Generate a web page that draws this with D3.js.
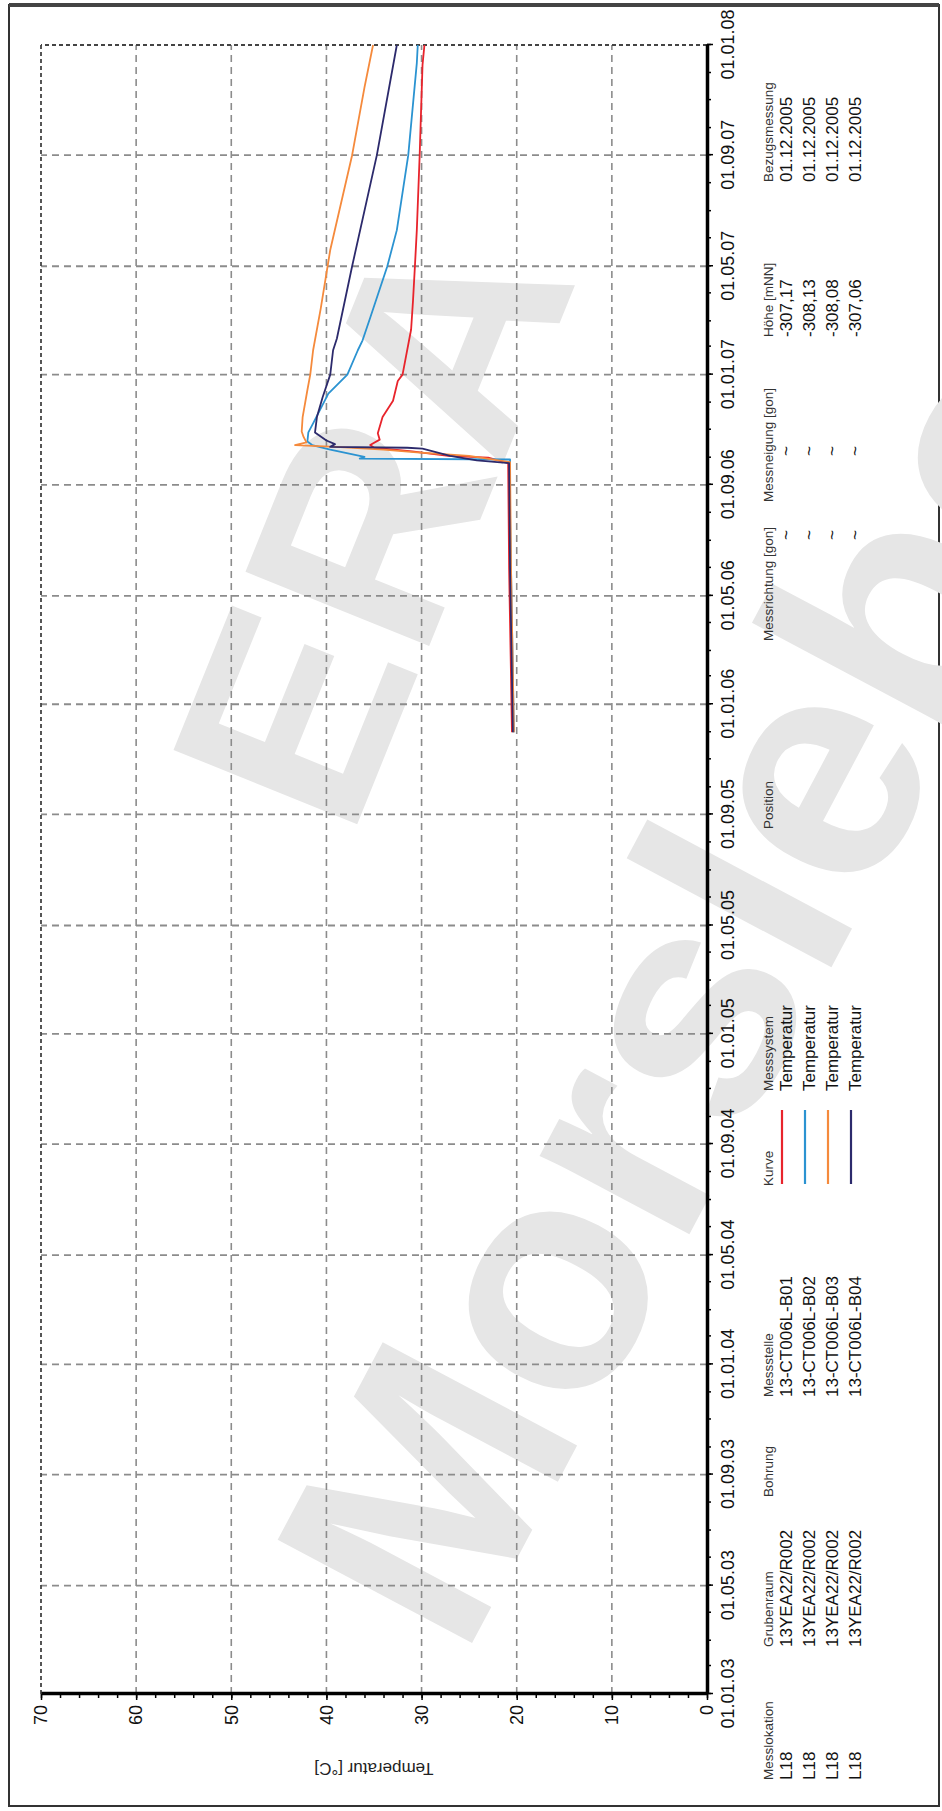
<!DOCTYPE html>
<html><head><meta charset="utf-8">
<script src="https://cdn.jsdelivr.net/npm/d3@7"></script>
<style>
body{margin:0;background:#fff}
svg{display:block}
text{font-family:"Liberation Sans",Arial,sans-serif}
</style>
</head><body>
<svg id="c" width="942" height="1811"></svg>
<script>
// ---------- data ----------
const dateTicks = ["2003-01-01","2003-05-01","2003-09-01","2004-01-01","2004-05-01","2004-09-01","2005-01-01","2005-05-01","2005-09-01","2006-01-01","2006-05-01","2006-09-01","2007-01-01","2007-05-01","2007-09-01","2008-01-01"];
const tempTicks = [0,10,20,30,40,50,60,70];
const seriesNames = ["13-CT006L-B01","13-CT006L-B02","13-CT006L-B03","13-CT006L-B04"];
const seriesColors = ["#e8242c","#2b93d1","#f58a3c","#2c2a6c"];

const b01 = [["2005-12-01",20.5],["2006-02-01",20.6],["2006-04-01",20.7],["2006-06-01",20.8],["2006-09-25",20.9],["2006-10-01",23.0],["2006-10-03",27.2],["2006-10-08",31.0],["2006-10-12",35.0],["2006-10-15",35.4],["2006-10-21",34.4],["2006-10-28",34.6],["2006-11-15",34.1],["2006-12-03",33.0],["2006-12-25",32.5],["2007-01-01",32.0],["2007-02-20",31.1],["2007-03-24",30.9],["2007-05-01",30.7],["2007-06-10",30.5],["2007-09-01",30.2],["2007-12-10",29.9],["2008-01-01",29.7]];
const b02 = [["2005-12-01",20.3],["2006-02-01",20.4],["2006-04-01",20.5],["2006-06-01",20.6],["2006-08-01",20.7],["2006-09-29",20.7],["2006-09-30",36.5],["2006-10-02",36.0],["2006-10-10",39.6],["2006-10-15",41.5],["2006-10-19",42.0],["2006-10-29",41.9],["2006-11-08",41.4],["2006-12-11",39.8],["2007-01-01",37.8],["2007-01-28",36.7],["2007-02-08",36.2],["2007-03-05",35.4],["2007-05-01",33.6],["2007-06-10",32.6],["2007-09-01",31.4],["2007-12-12",30.5],["2008-01-01",30.4]];
const b03 = [["2005-12-01",20.3],["2006-02-01",20.4],["2006-04-01",20.5],["2006-06-01",20.6],["2006-09-26",20.7],["2006-10-03",25.0],["2006-10-07",30.5],["2006-10-10",34.0],["2006-10-13",39.0],["2006-10-15",43.3],["2006-10-18",42.1],["2006-10-24",42.4],["2006-10-30",42.6],["2006-11-15",42.5],["2006-12-15",42.0],["2007-01-01",41.7],["2007-01-28",41.4],["2007-03-15",40.6],["2007-05-19",39.6],["2007-09-01",37.3],["2007-11-15",36.0],["2008-01-01",35.1]];
const b04 = [["2005-12-01",20.4],["2006-02-01",20.5],["2006-04-01",20.6],["2006-06-01",20.7],["2006-09-25",20.8],["2006-09-28",24.2],["2006-10-03",27.0],["2006-10-11",29.9],["2006-10-12",31.5],["2006-10-13",39.6],["2006-10-16",39.1],["2006-10-20",40.0],["2006-10-29",41.2],["2006-11-15",41.0],["2006-12-07",40.4],["2007-01-01",39.6],["2007-01-28",39.3],["2007-02-10",38.9],["2007-05-01",37.3],["2007-09-01",34.7],["2008-01-01",32.6]];
const seriesData = [b01,b02,b03,b04];

const legendHeaders = ["Messlokation","Grubenraum","Bohrung","Messstelle","Kurve","Messsystem","Position","Messrichtung [gon]","Messneigung [gon]","Höhe [mNN]","Bezugsmessung"];
const colMesslokation = ["L18","L18","L18","L18"];
const colGrubenraum = ["13YEA22/R002","13YEA22/R002","13YEA22/R002","13YEA22/R002"];
const colMesssystem = ["Temperatur","Temperatur","Temperatur","Temperatur"];
const colMessrichtung = ["~","~","~","~"];
const colMessneigung = ["~","~","~","~"];
const colHoehe = ["-307,17","-308,13","-308,08","-307,06"];
const colBezug = ["01.12.2005","01.12.2005","01.12.2005","01.12.2005"];
const watermark = ["ERA","Morsleben"];

// ---------- layout ----------
const parse = d3.timeParse("%Y-%m-%d");
const fmt = d3.timeFormat("%d.%m.%y");
const svg = d3.select("#c");

// frame
svg.append("rect").attr("x",9).attr("y",5).attr("width",930).attr("height",1801)
  .attr("fill","none").attr("stroke","#333").attr("stroke-width",2);
svg.append("line").attr("x1",9).attr("x2",939).attr("y1",5).attr("y2",5)
  .attr("stroke","#444").attr("stroke-width",4);

// watermark
svg.append("text").text(watermark[0]).attr("transform","translate(350,842) rotate(-68)")
  .attr("font-size",288).attr("font-weight","bold").attr("fill","#e6e6e6");
svg.append("text").text(watermark[1]).attr("transform","translate(462,1662) rotate(-62)")
  .attr("font-size",320).attr("font-weight","bold").attr("fill","#e6e6e6");

// rotated chart (original landscape chart, turned 90° counter-clockwise)
const g = svg.append("g").attr("transform","translate(0,1811) rotate(-90)");

const x = d3.scaleTime().domain([parse(dateTicks[0]), parse(dateTicks[dateTicks.length-1])]).range([117,1766]);
const y = d3.scaleLinear().domain([0,70]).range([707,41]);

// grid
const gridCol = "#8c8c8c";
g.selectAll(".tg").data(tempTicks.filter(t=>t>0&&t<70)).join("line")
  .attr("x1",x.range()[0]).attr("x2",x.range()[1]).attr("y1",d=>y(d)).attr("y2",d=>y(d))
  .attr("stroke",gridCol).attr("stroke-width",1.6).attr("stroke-dasharray","7,5");
g.selectAll(".dg").data(dateTicks.slice(1,-1)).join("line")
  .attr("x1",d=>x(parse(d))).attr("x2",d=>x(parse(d))).attr("y1",y(0)).attr("y2",y(70))
  .attr("stroke",gridCol).attr("stroke-width",1.8).attr("stroke-dasharray","7,5");
// plot borders (top / left in original)
g.append("line").attr("x1",x.range()[0]).attr("x2",x.range()[1]).attr("y1",y(70)).attr("y2",y(70))
  .attr("stroke","#444").attr("stroke-width",1.8).attr("stroke-dasharray","4,3");
g.append("line").attr("x1",x.range()[1]).attr("x2",x.range()[1]).attr("y1",y(0)).attr("y2",y(70))
  .attr("stroke","#444").attr("stroke-width",2).attr("stroke-dasharray","4,3");

// series
const line = d3.line().x(d=>x(parse(d[0]))).y(d=>y(d[1]));
seriesData.forEach((s,i)=>{
  g.append("path").datum(s).attr("d",line).attr("fill","none")
   .attr("stroke",seriesColors[i]).attr("stroke-width",1.8).attr("stroke-linejoin","round");
});

// axes
const gxMinor = g.append("g").attr("transform",`translate(0,${y(0)})`)
  .call(d3.axisBottom(x).ticks(d3.timeMonth.every(1)).tickSize(4).tickFormat(""));
gxMinor.select(".domain").remove();
const gx = g.append("g").attr("transform",`translate(0,${y(0)})`)
  .call(d3.axisBottom(x).tickValues(dateTicks.map(parse)).tickFormat(fmt).tickSize(6).tickPadding(8).tickSizeOuter(0));
gx.select(".domain").attr("stroke","#000").attr("stroke-width",3.5);
gx.selectAll("text").attr("font-size",18).attr("fill","#111").attr("font-family","Liberation Sans, Arial, sans-serif");

const gyMinor = g.append("g").attr("transform",`translate(${x.range()[0]},0)`)
  .call(d3.axisLeft(y).tickValues(d3.range(0,71,2)).tickSize(4).tickFormat(""));
gyMinor.select(".domain").remove();
const gy = g.append("g").attr("transform",`translate(${x.range()[0]},0)`)
  .call(d3.axisLeft(y).tickValues(tempTicks).tickSize(6).tickPadding(5).tickSizeOuter(0));
gy.select(".domain").attr("stroke","#000").attr("stroke-width",3.5);
gy.selectAll("text").attr("font-size",18).attr("fill","#111").attr("font-family","Liberation Sans, Arial, sans-serif");
g.selectAll(".tick line").attr("stroke","#000").attr("stroke-width",1.5);

// axis title
g.append("text").attr("transform",`translate(43,${(y(0)+y(70))/2}) rotate(-90)`)
  .attr("text-anchor","middle").attr("dominant-baseline","central")
  .attr("font-size",17).attr("fill","#222").text("Temperatur [°C]");

// legend table
const colX = [31,164,314,414,625,720,982,1170,1309,1474,1629];
const headerY = 773;
const rowY = [792,815,838,861];
g.selectAll(".lh").data(legendHeaders).join("text")
  .attr("x",(d,i)=>colX[i]).attr("y",headerY).attr("font-size",13.5).attr("fill","#333").text(d=>d);
const cols = [[colMesslokation,31],[colGrubenraum,164],[seriesNames,414],[colMesssystem,720],[colMessrichtung,1271],[colMessneigung,1355],[colHoehe,1474],[colBezug,1629]];
cols.forEach(([vals,cx])=>{
  g.selectAll(null).data(vals).join("text")
    .attr("x",cx).attr("y",(d,i)=>rowY[i]).attr("font-size",17).attr("fill","#111").text(d=>d);
});
g.selectAll(".sw").data(seriesColors).join("line")
  .attr("x1",627).attr("x2",701).attr("y1",(d,i)=>rowY[i]-10).attr("y2",(d,i)=>rowY[i]-10)
  .attr("stroke",d=>d).attr("stroke-width",2.2);
</script>
</body></html>
